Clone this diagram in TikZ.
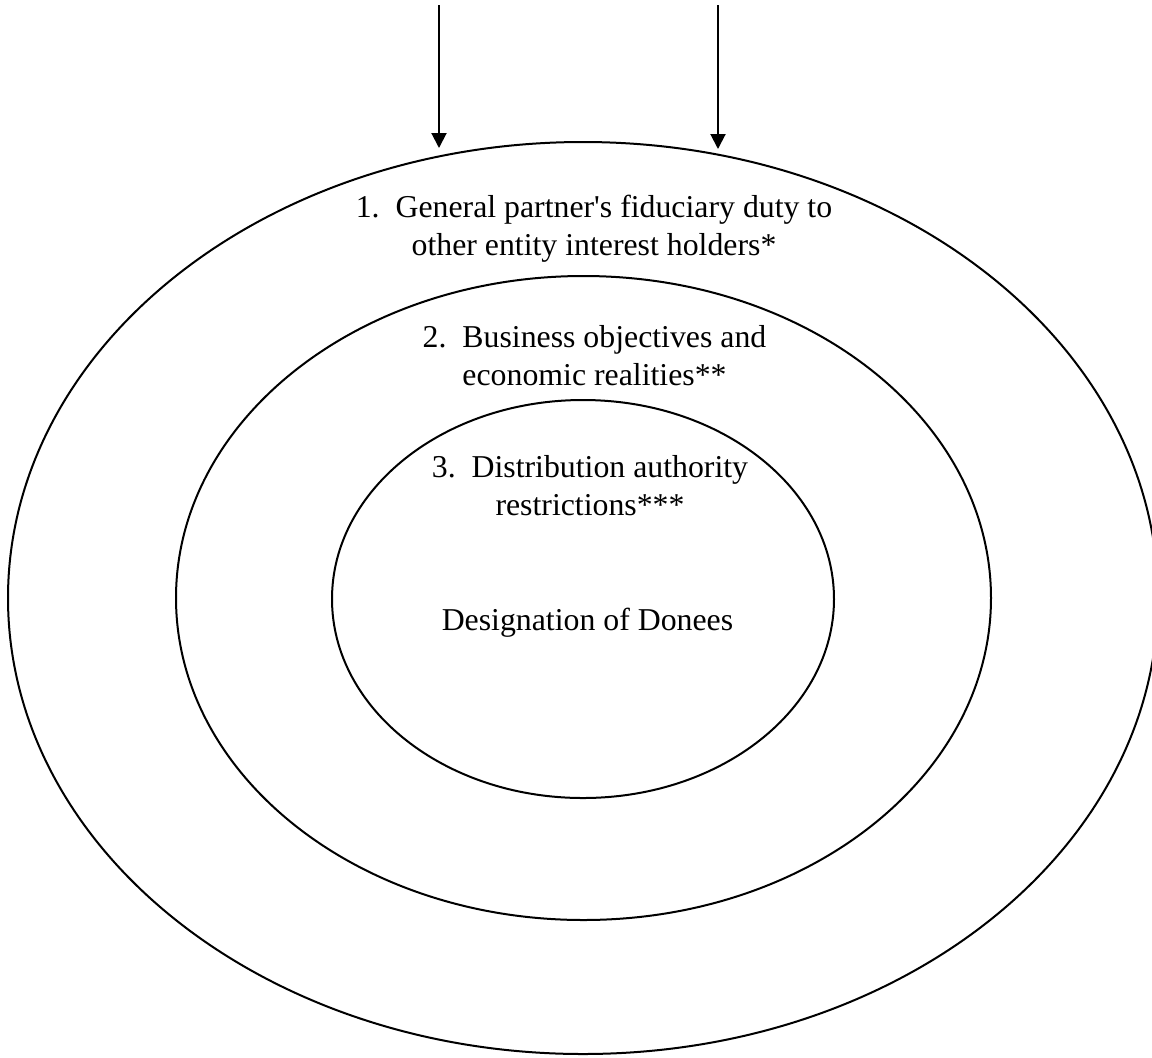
\documentclass[tikz,border=0pt]{standalone}
\usepackage{fontspec}
\setmainfont{Liberation Serif}
\usetikzlibrary{arrows.meta,shapes.geometric}
\begin{document}
\begin{tikzpicture}[x=0.5pt,y=-0.5pt,
  ring/.style={draw,ellipse,line width=1pt,inner sep=0pt,anchor=center},
  lbl/.style={align=center,anchor=base,inner sep=0pt,
    font=\fontsize{15.9pt}{19pt}\selectfont},
  arr/.style={line width=1pt,-{Triangle[width=7.5pt,length=7.5pt]}}]
  \useasboundingbox (0,0) rectangle (1152,1057);
  \clip (0,0) rectangle (1152,1057);
  % nested rings
  \node[ring,minimum width=575pt,minimum height=456pt] (outer) at (583,598) {};
  \node[ring,minimum width=407.5pt,minimum height=322pt] (middle) at (583.5,598) {};
  \node[ring,minimum width=251pt,minimum height=199pt] (inner) at (583,599) {};
  % ring labels (placed by the baseline of their last line)
  \node[lbl] (t1) at (594,255) {1.~~General partner\textquotesingle s fiduciary duty to\\other entity interest holders*};
  \node[lbl] (t2) at (594.5,385) {2.~~Business objectives and\\economic realities**};
  \node[lbl] (t3) at (590,515) {3.~~Distribution authority\\restrictions***};
  \node[lbl] (t4) at (587.5,630) {Designation of Donees};
  % incoming arrows
  \coordinate (a1s) at (439,5);
  \coordinate (a1e) at (439,148);
  \coordinate (a2s) at (718,5);
  \coordinate (a2e) at (718,149);
  \draw[arr] (a1s) -- (a1e);
  \draw[arr] (a2s) -- (a2e);
\end{tikzpicture}
\end{document}
